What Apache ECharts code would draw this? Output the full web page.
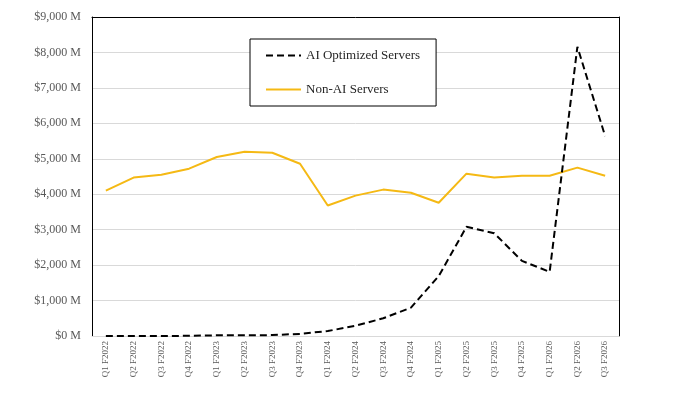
<!DOCTYPE html>
<html>
<head>
<meta charset="utf-8">
<script src="https://cdn.jsdelivr.net/npm/echarts@6/dist/echarts.min.js"></script>
<style>
    html, body { margin: 0; padding: 0; background: #fff; }
    #chart { width: 673px; height: 397px; }
</style>
</head>
<body>
<div id="chart"></div>
<script>
// 季度
const quarters = [
    'Q1 F2022', 'Q2 F2022', 'Q3 F2022', 'Q4 F2022',
    'Q1 F2023', 'Q2 F2023', 'Q3 F2023', 'Q4 F2023',
    'Q1 F2024', 'Q2 F2024', 'Q3 F2024', 'Q4 F2024',
    'Q1 F2025', 'Q2 F2025', 'Q3 F2025', 'Q4 F2025',
    'Q1 F2026', 'Q2 F2026', 'Q3 F2026'
]
// 单位：百万美元
const aiServers = [0, 0, 0, 5, 20, 20, 25, 60, 140, 290, 500, 800, 1690, 3080, 2900, 2120, 1810, 8160, 5640]
const nonAiServers = [4100, 4470, 4550, 4720, 5050, 5200, 5170, 4860, 3680, 3960, 4130, 4040, 3760, 4580, 4470, 4520, 4520, 4750, 4520]
const seriesNames = ['AI Optimized Servers', 'Non-AI Servers']

const font = 'Liberation Serif'
const chart = echarts.init(document.getElementById('chart'))
const blackLine = { show: true, onZero: false, lineStyle: { color: '#000', width: 1 } }
const option = {
    animation: false,
    textStyle: { fontFamily: font },
    grid: {
        left: 92,
        right: 54,
        top: 17,
        bottom: 61
    },
    legend: {
        orient: 'vertical',
        left: 250,
        top: 39,
        padding: [10, 16, 10, 15],
        itemGap: 21,
        itemWidth: 35,
        itemHeight: 14,
        borderColor: '#000',
        borderWidth: 1,
        backgroundColor: '#fff',
        // 图例只显示线，不显示圆点
        itemStyle: { opacity: 0 },
        textStyle: { fontFamily: font, fontSize: 13, color: '#262626' },
        data: seriesNames
    },
    xAxis: [
        {
            type: 'category',
            data: quarters,
            boundaryGap: true,
            axisLine: { show: true, onZero: false, lineStyle: { color: '#d9d9d9' } },
            axisTick: { show: false },
            axisLabel: {
                rotate: 90,
                fontSize: 9,
                color: '#595959',
                margin: 5,
                fontFamily: font
            }
        },
        {
            // 上边框
            type: 'category',
            position: 'top',
            data: quarters,
            axisLine: blackLine,
            axisTick: { show: false },
            axisLabel: { show: false }
        }
    ],
    yAxis: [
        {
            type: 'value',
            min: 0,
            max: 9000,
            interval: 1000,
            axisLine: blackLine,
            axisTick: { show: false },
            splitLine: { lineStyle: { color: '#d9d9d9' } },
            axisLabel: {
                fontSize: 12,
                color: '#595959',
                margin: 11,
                fontFamily: font,
                formatter: v => '$' + v.toLocaleString('en-US') + ' M'
            }
        },
        {
            // 右边框
            type: 'value',
            position: 'right',
            min: 0,
            max: 9000,
            interval: 1000,
            axisLine: blackLine,
            axisTick: { show: false },
            splitLine: { show: false },
            axisLabel: { show: false }
        }
    ],
    series: [
        {
            name: seriesNames[0],
            type: 'line',
            data: aiServers,
            symbol: 'none',
            z: 3,
            lineStyle: { color: '#000', width: 2, type: [7, 4] },
            itemStyle: { color: '#000' }
        },
        {
            name: seriesNames[1],
            type: 'line',
            data: nonAiServers,
            symbol: 'none',
            z: 2,
            lineStyle: { color: '#F5B914', width: 2 },
            itemStyle: { color: '#F5B914' }
        }
    ]
}
chart.setOption(option)
</script>
</body>
</html>
